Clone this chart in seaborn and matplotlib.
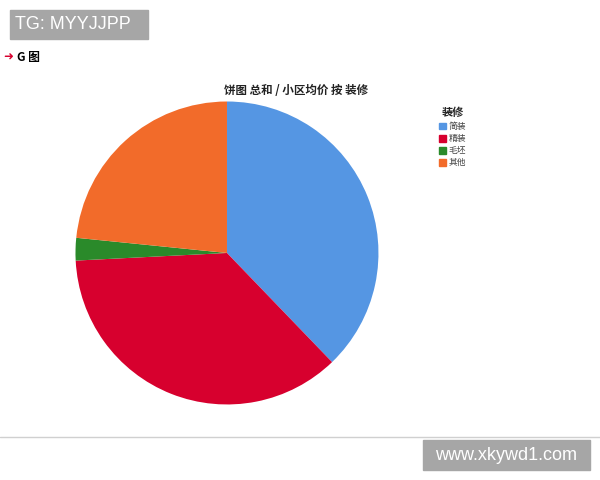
import matplotlib
matplotlib.use("Agg")
import matplotlib.pyplot as plt
import matplotlib.patches as mpatches
import seaborn as sns

sns.set_theme(style="white")
plt.rcParams['font.family'] = ['Noto Sans CJK SC', 'DejaVu Sans']

# data (share of the pie, in %)
categories = ['简装', '精装', '毛坯', '其他']
values = [37.8, 36.4, 2.4, 23.4]
colors = ['#5596e3', '#d7002e', '#2a8a2a', '#f26b2a']

fig = plt.figure(figsize=(6, 4.8), dpi=100)
fig.patch.set_facecolor('white')

# pie axes, square in pixels
ax = fig.add_axes([0.1233, 0.1542, 0.51, 0.6375])
ax.pie(values, colors=colors, startangle=90, counterclock=False,
       radius=1, wedgeprops={'linewidth': 0})
ax.set_xlim(-1.01, 1.01)
ax.set_ylim(-1.01, 1.01)
ax.axis('off')

fig.text(296 / 600, 1 - 91 / 480, '饼图 总和 / 小区均价 按 装修', ha='center', va='center',
         fontsize=8.3, fontweight='bold', color='#222222')

handles = [mpatches.Patch(color=c, label=l) for c, l in zip(colors, categories)]
leg = fig.legend(handles=handles, title='装修', loc='upper left',
                 bbox_to_anchor=(433 / 600, 1 - 100 / 480), frameon=False,
                 fontsize=6.3, title_fontsize=8, handlelength=0.8, handleheight=0.8,
                 handletextpad=0.3, labelspacing=0.35, borderpad=0.2)
leg.get_title().set_fontweight('bold')
for t in leg.get_texts():
    t.set_color('#444444')

# header box and note
fig.patches.append(mpatches.Rectangle((10 / 600, 1 - 39 / 480), 138 / 600, 29 / 480,
                                      transform=fig.transFigure, color='#a6a6a6'))
fig.text(15 / 600, 1 - 24.5 / 480, 'TG: MYYJJPP', color='white', fontsize=13,
         va='center', ha='left', family=['Liberation Sans', 'DejaVu Sans'])
fig.text(3 / 600, 1 - 57 / 480, '➜', color='#d7002e', fontsize=8.5, va='center',
         fontweight='bold', family=['DejaVu Sans'])
fig.text(17 / 600, 1 - 57 / 480, 'G 图', color='black', fontsize=8.5, fontweight='bold',
         va='center')

# bottom rule and footer box
fig.add_artist(plt.Line2D([0, 1], [1 - 437 / 480, 1 - 437 / 480], transform=fig.transFigure,
                          color='#d0d0d0', linewidth=1))
fig.patches.append(mpatches.Rectangle((423 / 600, 1 - 470 / 480), 167 / 600, 30 / 480,
                                      transform=fig.transFigure, color='#a6a6a6'))
fig.text(506 / 600, 1 - 455 / 480, 'www.xkywd1.com', color='white', fontsize=13,
         va='center', ha='center', family=['Liberation Sans', 'DejaVu Sans'])

fig.savefig('out.png', dpi=100, facecolor='white')
